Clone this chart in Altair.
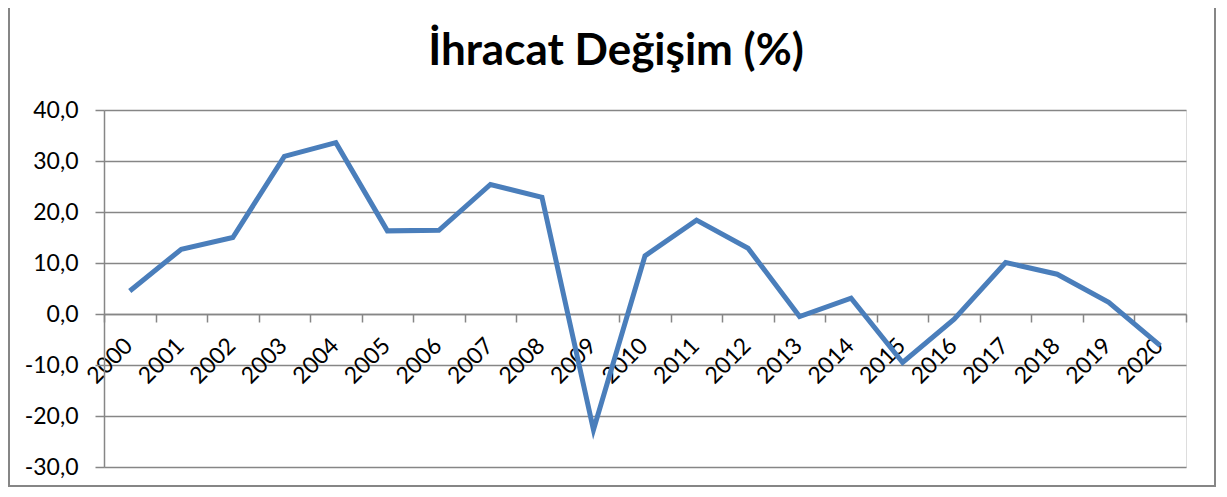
import altair as alt
import pandas as pd

years = [str(y) for y in range(2000, 2021)]
values = [4.5, 12.7, 15.0, 30.9, 33.6, 16.3, 16.4, 25.4, 22.9, -22.7,
          11.4, 18.4, 12.9, -0.5, 3.1, -9.5, -1.0, 10.1, 7.8, 2.3, -6.2]
y_ticks = [-30, -20, -10, 0, 10, 20, 30, 40]
title_text = "İhracat Değişim (%)"

df = pd.DataFrame({"Yıl": years, "Değişim": values})

W, H = 1082, 357
GRID = "#868686"
FONT = "Lato"

x_scale = alt.Scale(type="band", paddingInner=0, paddingOuter=0)
y_scale = alt.Scale(domain=[-30, 40], nice=False, zero=False)

line = alt.Chart(df).mark_line(color="#4A7EBB", strokeWidth=5, strokeJoin="miter").encode(
    x=alt.X("Yıl:O", scale=x_scale, sort=years, bandPosition=0.5,
            axis=alt.Axis(title=None, labelAngle=-45, labelAlign="right", labelBaseline="top",
                          labelFont=FONT, labelFontSize=23, labelColor="#000000",
                          labelPadding=12, labelOffset=-9, tickBand="extent", tickSize=8,
                          tickColor=GRID, tickWidth=1.5, domainColor=GRID, domainWidth=1.5,
                          grid=False, offset=-153, labelOverlap=False)),
    y=alt.Y("Değişim:Q", scale=y_scale,
            axis=alt.Axis(title=None, values=y_ticks, labelExpr="toString(datum.value) + ',0'",
                          labelFont=FONT, labelFontSize=23, labelColor="#000000",
                          labelPadding=17, tickSize=9, tickColor=GRID, tickWidth=1.5,
                          domainColor=GRID, domainWidth=1.5, grid=True, gridColor=GRID,
                          gridWidth=1.5)),
)

frame = alt.Chart(pd.DataFrame({"k": [0]})).mark_rect(
    filled=False, stroke=GRID, strokeWidth=2
).encode(
    x=alt.value(-95), x2=alt.value(1111), y=alt.value(-120), y2=alt.value(376)
)

title = alt.Chart(pd.DataFrame({"t": [title_text]})).mark_text(
    font=FONT, fontSize=44, fontWeight="bold", color="#000000",
    align="center", baseline="alphabetic"
).encode(x=alt.value(512), y=alt.value(-45), text="t:N")

chart = alt.layer(frame, line, title).properties(
    width=W, height=H,
    autosize=alt.AutoSizeParams(type="none"),
    padding={"left": 96, "top": 102, "right": 31, "bottom": 20},
).configure_view(stroke=None).configure(background="white")

chart.save("out.html", embed_options={"renderer": "svg", "actions": False})
